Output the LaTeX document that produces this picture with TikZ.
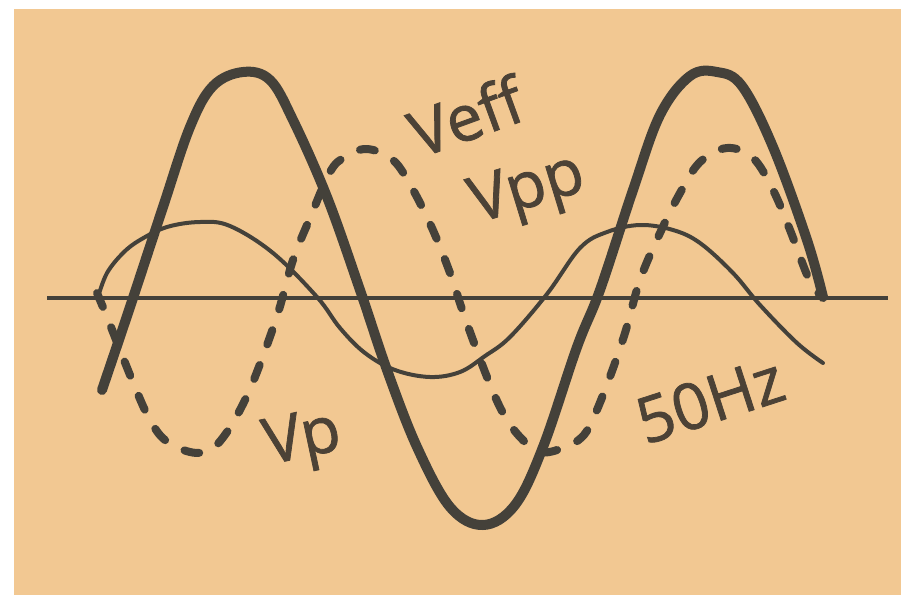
\documentclass[tikz,border=0pt]{standalone}
\usepackage{fontspec}
\setmainfont{Open Sans}
\newfontfamily\handfont{Open Sans}[FakeBold=1.2]
\definecolor{paper}{RGB}{242,200,146}
\definecolor{ink}{RGB}{68,65,58}
\definecolor{textink}{RGB}{76,66,54}
\tikzset{
  thickwave/.style={draw=ink, line width=10pt, line cap=round, line join=round},
  thinwave/.style={draw=ink, line width=4pt, line cap=round, line join=round},
  dashwave/.style={draw=ink, line width=8pt, line cap=round, dash pattern=on 15pt off 22pt},
  axisline/.style={draw=ink, line width=3.2pt},
  handlabel/.style={text=textink, font=\handfont\fontsize{64}{64}\selectfont, inner sep=0pt, anchor=center}
}
\begin{document}
\begin{tikzpicture}[x=1pt,y=-1pt]
\useasboundingbox (0,0) rectangle (901,595);
\fill[white] (0,0) rectangle (901,595);
\fill[paper] (14,9) rectangle (901,595);
% axis
\coordinate (axL) at (47,298);
\coordinate (axR) at (888,298);
\draw[axisline] (axL) -- (axR);
% thin 50 Hz sine
\draw[thinwave] plot[smooth, tension=0.6] coordinates {
 (98,297) (107,273) (123,253) (140,240) (167,227) (200,222) (230,226) (273,253) (317,297)
 (340,328) (365,353) (395,370) (430,377) (460,372) (485,356) (510,337) (547,294) (580,248)
 (607,232) (640,225) (673,230) (700,243) (733,273) (760,305) (797,343) (823,363)};
% dashed curve
\draw[dashwave] plot[smooth, tension=0.6] coordinates {
 (97,293) (107,317) (122,355) (137,392) (150,420) (165,440) (190,452) (210,450) (227,432)
 (245,400) (260,364) (278,313) (293,260) (310,218) (330,172) (345,157) (367,149) (393,160)
 (412,188) (432,228) (450,273) (465,318) (487,377) (503,413) (520,437) (540,452) (563,448)
 (581,438) (592,421) (608,382) (625,333) (640,280) (660,233) (680,193) (700,162) (727,148)
 (753,158) (773,190) (790,230) (808,277) (820,295)};
% thick curve
\draw[thickwave] plot[smooth, tension=0.6] coordinates {
 (102,390) (130,307) (163,207) (190,127) (213,86) (243,72) (270,80) (293,120) (327,197)
 (360,290) (387,370) (417,447) (450,507) (483,525) (515,505) (543,447) (577,347) (600,290)
 (633,190) (660,115) (690,76) (717,72) (742,86) (773,147) (807,240) (823,297)};
% labels
\node[handlabel, rotate=20] (veff) at (466,116) {Veff};
\node[handlabel, rotate=17] (vpp) at (528,192) {Vpp};
\node[handlabel, rotate=12] (vp) at (303,442) {Vp};
\node[handlabel, rotate=18] (hz) at (710,400) {50Hz};
\end{tikzpicture}
\end{document}
